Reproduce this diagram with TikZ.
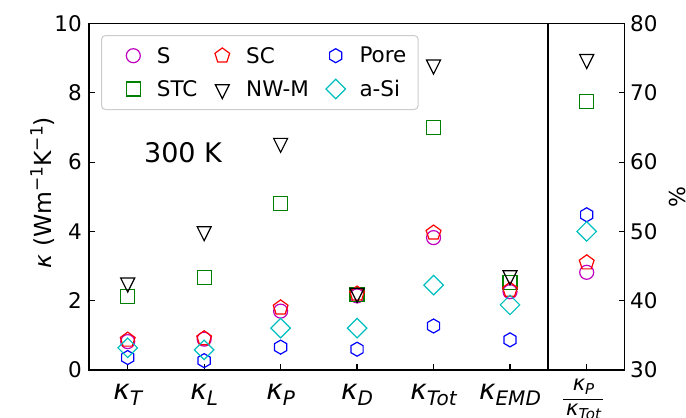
\documentclass[tikz,border=0pt]{standalone}
\usepackage{fontspec}
\setmainfont{DejaVu Sans}
\usetikzlibrary{shapes.geometric}
\definecolor{mplm}{rgb}{0.75,0,0.75}
\definecolor{mplc}{rgb}{0,0.75,0.75}
\definecolor{mplg}{rgb}{0,0.5,0}
\definecolor{mplr}{rgb}{1,0,0}
\definecolor{mplb}{rgb}{0,0,1}
\tikzset{
  mk/.style={inner sep=0pt, line width=1.2pt},
  mS/.style={mk, draw=mplm, circle, minimum size=14pt},
  mSTC/.style={mk, draw=mplg, rectangle, minimum size=14pt},
  mSC/.style={mk, draw=mplr, regular polygon, regular polygon sides=5, minimum size=15.5pt},
  mNW/.style={mk, draw=black, isosceles triangle, isosceles triangle apex angle=53.13,
              isosceles triangle stretches, shape border rotate=270, minimum width=14pt, minimum height=14pt},
  mPore/.style={mk, draw=mplb, regular polygon, regular polygon sides=6, shape border rotate=30, minimum size=14pt},
  maSi/.style={mk, draw=mplc, diamond, minimum width=20pt, minimum height=20pt},
  axisline/.style={line width=1.5pt, black},
  tickline/.style={line width=1.2pt, black},
  ticklab/.style={inner sep=0pt, font=\fontsize{21.5}{24}\selectfont},
  legtxt/.style={inner sep=0pt, anchor=west, font=\fontsize{21.5}{24}\selectfont},
  xlab/.style={inner sep=0pt, anchor=base, font=\fontsize{28}{30}\selectfont\itshape},
}
\newcommand\kx[1]{κ\raisebox{-5.5pt}{\fontsize{20}{20}\selectfont #1}}
\newcommand\mcol[8]{%
  \node[mS] (S#1) at (#2,#3) {};
  \node[mSTC] (STC#1) at (#2,#4) {};
  \node[mSC] (SC#1) at (#2,#5) {};
  \node[mNW] (NW#1) at (#2,#6) {};
  \node[mPore] (Pore#1) at (#2,#7) {};
  \node[maSi] (aSi#1) at (#2,#8) {};
}
\begin{document}
\begin{tikzpicture}[x=1pt,y=-1pt]
\useasboundingbox (0,0) rectangle (686,418);
% axes frames
\draw[axisline] (89,23.5) rectangle (548,370);
\draw[axisline] (548,23.5) rectangle (624.7,370);
\draw[line width=2.6pt] (548,23.5) -- (548,370);
% left ticks and labels
\foreach \v/\l in {0/0,2/2,4/4,6/6,8/8,10/10}{
  \draw[tickline] (89,370-34.65*\v) -- (95,370-34.65*\v);
  \node[ticklab, anchor=east] (yl\v) at (82,370-34.65*\v) {\l};
}
% right ticks and labels
\foreach \p in {30,40,50,60,70,80}{
  \draw[tickline] (624.7,370-6.93*\p+207.9) -- (618.7,370-6.93*\p+207.9);
  \node[ticklab, anchor=west] (yr\p) at (630,370-6.93*\p+207.9) {\p};
}
% bottom ticks
\foreach \i in {0,...,5}{
  \draw[tickline] (127.7+76.46*\i,370) -- (127.7+76.46*\i,364);
}
\draw[tickline] (586.7,370) -- (586.7,364);
% x labels
\node[xlab] (xT) at (127.7,399.5) {\kx{T}};
\node[xlab] (xL) at (204.16,399.5) {\kx{L}};
\node[xlab] (xP) at (280.62,399.5) {\kx{P}};
\node[xlab] (xD) at (357.08,399.5) {\kx{D}};
\node[xlab] (xTot) at (433.54,399.5) {\kx{Tot}};
\node[xlab] (xEMD) at (510,399.5) {\kx{EMD}};
% fraction label
\node[inner sep=0pt, anchor=base, font=\fontsize{21}{22}\selectfont\itshape] (fnum) at (583.5,390) {κ\raisebox{-4pt}{\fontsize{15}{15}\selectfont P}};
\coordinate (fbl) at (563.3,399.3);
\coordinate (fbr) at (603.3,399.3);
\draw[line width=1.6pt] (fbl) -- (fbr);
\node[inner sep=0pt, anchor=base, font=\fontsize{21}{22}\selectfont\itshape] (fden) at (583.5,415.7) {κ\raisebox{-4pt}{\fontsize{15}{15}\selectfont Tot}};
% axis titles
\node[inner sep=0pt, rotate=90, anchor=base, font=\fontsize{23.5}{26}\selectfont] (ylab) at (51.7,192.5)
  {{\itshape κ} (Wm\raisebox{9pt}{\fontsize{17}{18}\selectfont −1}K\raisebox{9pt}{\fontsize{17}{18}\selectfont −1})};
\node[inner sep=0pt, rotate=90, font=\fontsize{22}{24}\selectfont] (yrlab) at (677,197) {\%};
\node[inner sep=0pt, font=\fontsize{27}{30}\selectfont] (temp) at (183,153) {300 K};
% data, main panel
\begin{scope}[shift={(0,370)}, y=34.65pt]
\mcol{0}{127.7}{0.82}{2.13}{0.87}{2.53}{0.36}{0.64}
\mcol{1}{204.16}{0.89}{2.67}{0.91}{4.01}{0.27}{0.58}
\mcol{2}{280.62}{1.70}{4.81}{1.80}{6.56}{0.66}{1.21}
\mcol{3}{357.08}{2.14}{2.18}{2.20}{2.23}{0.60}{1.21}
\mcol{4}{433.54}{3.82}{7.00}{3.96}{8.82}{1.27}{2.45}
\mcol{5}{510}{2.26}{2.53}{2.31}{2.74}{0.87}{1.88}
\end{scope}
% data, right panel
\begin{scope}[shift={(0,577.9)}, y=6.93pt]
\mcol{R}{586.7}{44.1}{68.8}{45.5}{74.9}{52.4}{50.0}
\end{scope}
% legend
\node[draw=black!20, fill=white, fill opacity=0.8, rounded corners=4pt, line width=1pt,
      minimum width=316.7pt, minimum height=74pt, anchor=north west, inner sep=0pt] (leg) at (101,35) {};
\node[mS] (lS) at (133.3,55.7) {};
\node[legtxt] (tS) at (156.7,55.2) {S};
\node[mSTC] (lSTC) at (133.3,89) {};
\node[legtxt] (tSTC) at (156.7,88.5) {STC};
\node[mSC] (lSC) at (222.3,55.7) {};
\node[legtxt] (tSC) at (246,55.2) {SC};
\node[mNW] (lNW) at (222.3,89) {};
\node[legtxt] (tNW) at (246,88.5) {NW-M};
\node[mPore] (lPore) at (335.7,55.7) {};
\node[legtxt] (tPore) at (359.3,55.2) {Pore};
\node[maSi] (laSi) at (335.7,89) {};
\node[legtxt] (taSi) at (359.3,88.5) {a-Si};
\end{tikzpicture}
\end{document}
